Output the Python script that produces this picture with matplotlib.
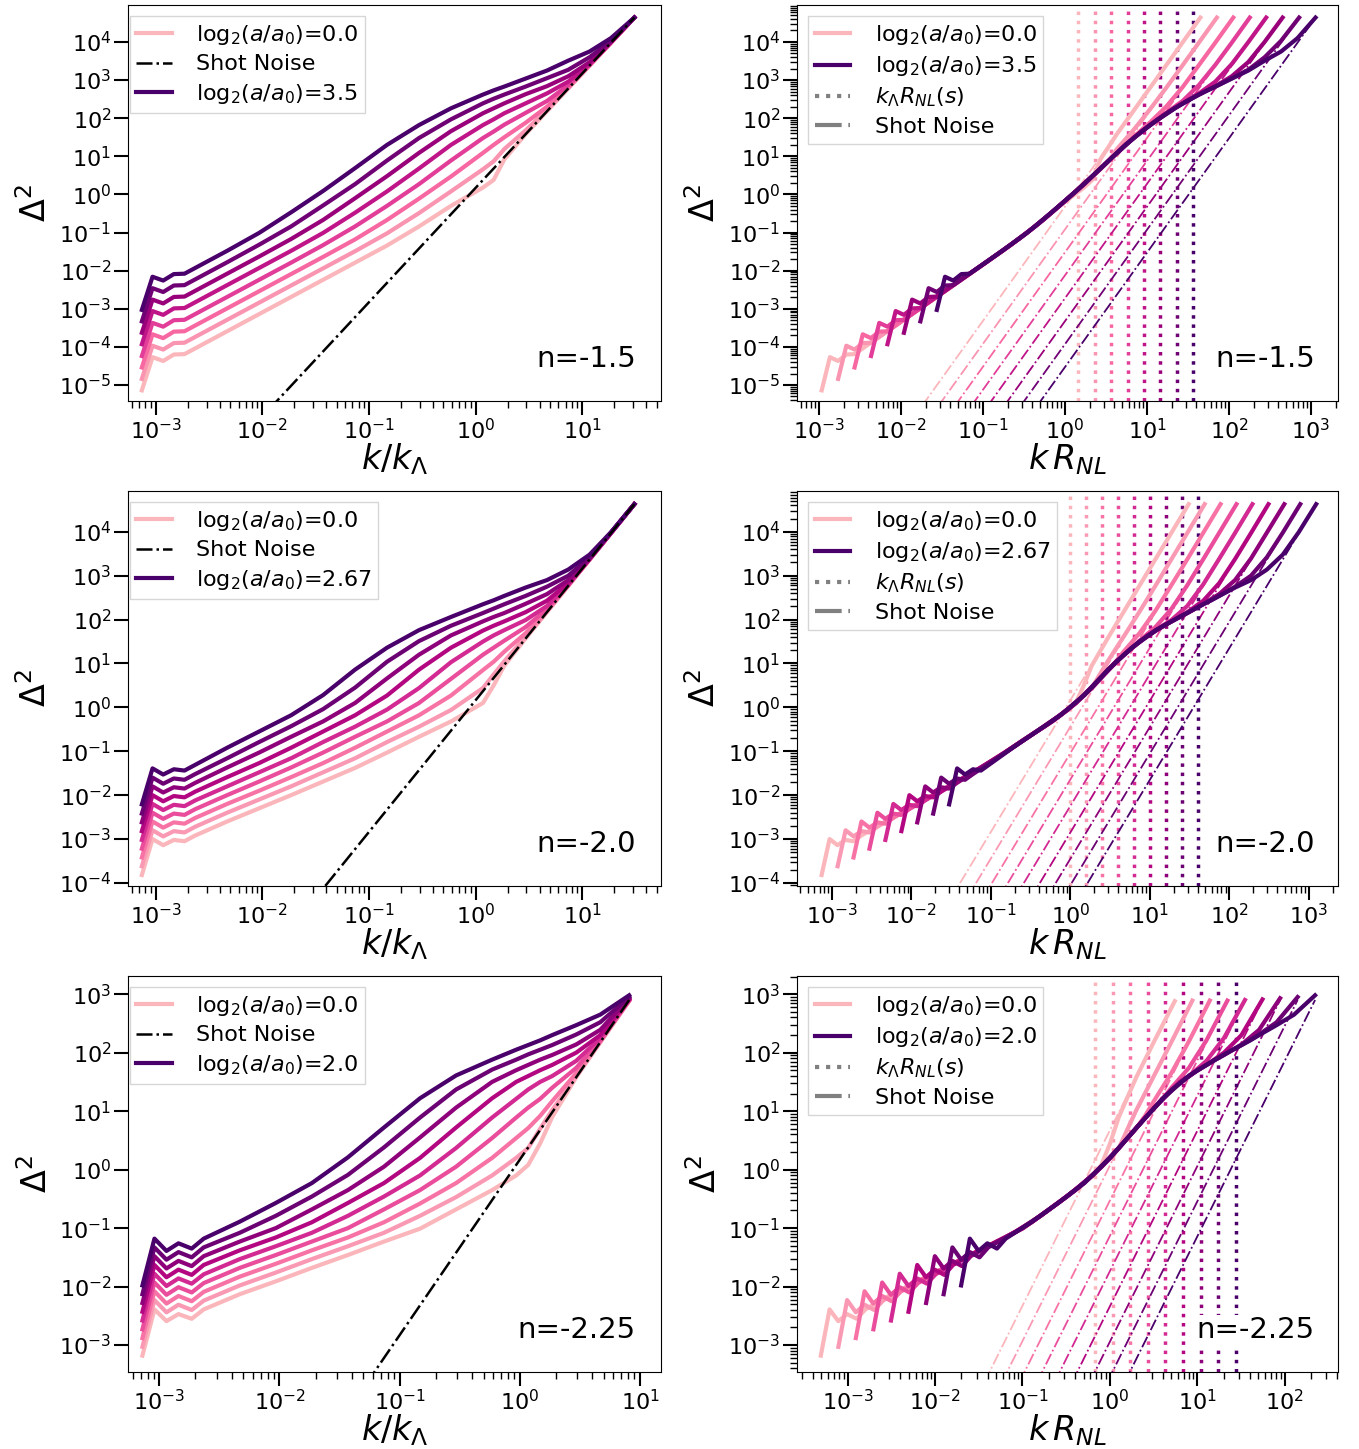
import numpy as np
import matplotlib.pyplot as plt
from matplotlib.lines import Line2D
from matplotlib.ticker import LogLocator, NullFormatter, NullLocator

# Dimensionless power spectra Delta^2(k) for three scale-free runs.
# Values are log10(Delta^2) on a log10(k/k_Lambda) grid, one row per snapshot.

# ---- n = -1.5 ----
logk_15 = [-3.13, -3.03, -2.93, -2.83, -2.73, -2.63, -2.33, -2.03, -1.73, -1.43, -1.13, -0.83,
           -0.53, -0.23, 0.07, 0.17, 0.27, 0.47, 0.67, 0.87, 1.07, 1.27, 1.49]
loga_15 = [0.0, 0.5, 1.0, 1.5, 2.0, 2.5, 3.0, 3.5]
krnl_15 = [1.45, 2.30, 3.65, 5.80, 9.20, 14.6, 23.2, 36.8]
d2_15 = [
    [-5.14, -4.27, -4.37, -4.20, -4.19, -4.04, -3.59, -3.14, -2.69, -2.24, -1.79, -1.34, -0.84, -0.30, 0.18, 0.38, 0.92, 1.58, 2.18, 2.78, 3.38, 3.98, 4.64],
    [-4.84, -3.97, -4.07, -3.90, -3.89, -3.74, -3.29, -2.84, -2.39, -1.94, -1.49, -1.02, -0.49, 0.08, 0.66, 0.87, 1.19, 1.68, 2.22, 2.79, 3.38, 3.98, 4.64],
    [-4.54, -3.67, -3.77, -3.60, -3.59, -3.44, -2.99, -2.54, -2.09, -1.64, -1.18, -0.67, -0.11, 0.47, 1.09, 1.30, 1.50, 1.88, 2.30, 2.81, 3.39, 3.98, 4.64],
    [-4.24, -3.37, -3.47, -3.30, -3.29, -3.14, -2.69, -2.24, -1.79, -1.33, -0.84, -0.30, 0.27, 0.89, 1.48, 1.65, 1.83, 2.14, 2.45, 2.87, 3.40, 3.98, 4.64],
    [-3.93, -3.06, -3.16, -2.99, -2.98, -2.83, -2.38, -1.93, -1.48, -1.01, -0.48, 0.08, 0.68, 1.30, 1.82, 1.97, 2.13, 2.39, 2.65, 2.96, 3.42, 3.99, 4.64],
    [-3.63, -2.76, -2.86, -2.69, -2.68, -2.53, -2.08, -1.63, -1.17, -0.67, -0.10, 0.48, 1.09, 1.66, 2.13, 2.26, 2.39, 2.63, 2.84, 3.10, 3.47, 4.00, 4.64],
    [-3.33, -2.46, -2.56, -2.39, -2.38, -2.23, -1.78, -1.32, -0.84, -0.29, 0.27, 0.89, 1.48, 1.97, 2.39, 2.51, 2.62, 2.83, 3.05, 3.27, 3.60, 4.03, 4.64],
    [-3.03, -2.16, -2.26, -2.09, -2.08, -1.93, -1.48, -1.01, -0.47, 0.09, 0.69, 1.30, 1.82, 2.26, 2.62, 2.73, 2.83, 3.04, 3.25, 3.51, 3.75, 4.10, 4.64],
]
sn_logk_15 = [-3.13, 1.49]
sn_d2_15 = [-9.22, 4.64]

# ---- n = -2.0 ----
logk_20 = [-3.13, -3.03, -2.93, -2.83, -2.73, -2.63, -2.33, -2.03, -1.73, -1.43, -1.13, -0.83,
           -0.53, -0.23, 0.07, 0.17, 0.27, 0.47, 0.67, 0.87, 1.07, 1.27, 1.49]
loga_20 = [0.0, 0.33, 0.67, 1.0, 1.33, 1.67, 2.0, 2.33, 2.67]
krnl_20 = [1.00, 1.59, 2.52, 4.00, 6.35, 10.1, 16.0, 25.4, 40.3]
d2_20 = [
    [-3.82, -3.00, -3.14, -3.02, -3.05, -2.92, -2.60, -2.30, -2.00, -1.69, -1.38, -1.03, -0.67, -0.32, 0.10, 0.50, 0.95, 1.57, 2.17, 2.77, 3.37, 3.97, 4.63],
    [-3.62, -2.80, -2.94, -2.82, -2.85, -2.72, -2.40, -2.10, -1.80, -1.48, -1.16, -0.79, -0.44, -0.06, 0.44, 0.75, 1.05, 1.61, 2.18, 2.77, 3.37, 3.97, 4.63],
    [-3.42, -2.60, -2.74, -2.62, -2.65, -2.52, -2.20, -1.90, -1.59, -1.27, -0.92, -0.55, -0.18, 0.27, 0.85, 1.04, 1.27, 1.69, 2.20, 2.78, 3.37, 3.97, 4.63],
    [-3.22, -2.40, -2.54, -2.42, -2.45, -2.32, -2.00, -1.69, -1.37, -1.03, -0.67, -0.32, 0.10, 0.65, 1.20, 1.36, 1.52, 1.83, 2.24, 2.78, 3.37, 3.97, 4.63],
    [-3.02, -2.20, -2.34, -2.22, -2.25, -2.12, -1.80, -1.48, -1.16, -0.79, -0.44, -0.05, 0.44, 1.03, 1.50, 1.64, 1.76, 1.99, 2.31, 2.80, 3.38, 3.97, 4.63],
    [-2.82, -2.00, -2.14, -2.02, -2.05, -1.92, -1.59, -1.27, -0.92, -0.55, -0.18, 0.27, 0.86, 1.36, 1.75, 1.86, 1.96, 2.17, 2.43, 2.83, 3.38, 3.97, 4.63],
    [-2.62, -1.80, -1.94, -1.82, -1.85, -1.72, -1.37, -1.03, -0.67, -0.32, 0.10, 0.66, 1.20, 1.64, 1.96, 2.06, 2.15, 2.36, 2.58, 2.90, 3.39, 3.98, 4.63],
    [-2.42, -1.60, -1.74, -1.62, -1.65, -1.52, -1.16, -0.79, -0.43, -0.04, 0.45, 1.04, 1.51, 1.86, 2.15, 2.25, 2.35, 2.54, 2.75, 3.00, 3.42, 3.98, 4.63],
    [-2.21, -1.39, -1.53, -1.41, -1.44, -1.31, -0.92, -0.55, -0.18, 0.28, 0.86, 1.36, 1.76, 2.06, 2.35, 2.44, 2.54, 2.73, 2.90, 3.14, 3.48, 3.99, 4.63],
]
sn_logk_20 = [-3.13, 1.49]
sn_d2_20 = [-9.23, 4.63]

# ---- n = -2.25 ----
logk_225 = [-3.14, -3.04, -2.94, -2.84, -2.73, -2.63, -2.33, -2.03, -1.73, -1.43, -1.13, -0.83,
            -0.53, -0.23, -0.03, 0.07, 0.17, 0.27, 0.47, 0.67, 0.91]
loga_225 = [0.0, 0.25, 0.5, 0.75, 1.0, 1.25, 1.5, 1.75, 2.0]
krnl_225 = [0.68, 1.08, 1.71, 2.72, 4.32, 6.85, 10.9, 17.3, 27.4]
d2_225 = [
    [-3.18, -2.39, -2.59, -2.47, -2.55, -2.39, -2.13, -1.91, -1.68, -1.46, -1.23, -1.01, -0.68, -0.35, -0.10, 0.08, 0.45, 0.90, 1.58, 2.18, 2.88],
    [-3.03, -2.23, -2.44, -2.31, -2.40, -2.24, -1.98, -1.76, -1.53, -1.31, -1.08, -0.79, -0.47, -0.10, 0.20, 0.37, 0.70, 1.02, 1.60, 2.18, 2.89],
    [-2.88, -2.08, -2.29, -2.16, -2.25, -2.09, -1.83, -1.61, -1.38, -1.16, -0.90, -0.58, -0.23, 0.20, 0.54, 0.71, 0.92, 1.17, 1.65, 2.19, 2.89],
    [-2.73, -1.93, -2.14, -2.01, -2.10, -1.94, -1.68, -1.46, -1.23, -1.00, -0.68, -0.35, 0.05, 0.54, 0.89, 1.06, 1.21, 1.40, 1.74, 2.21, 2.89],
    [-2.58, -1.78, -1.99, -1.86, -1.95, -1.79, -1.53, -1.31, -1.08, -0.79, -0.46, -0.10, 0.37, 0.89, 1.21, 1.37, 1.50, 1.60, 1.86, 2.25, 2.90],
    [-2.43, -1.63, -1.84, -1.71, -1.80, -1.63, -1.38, -1.16, -0.90, -0.57, -0.23, 0.20, 0.72, 1.22, 1.50, 1.60, 1.70, 1.79, 2.00, 2.30, 2.91],
    [-2.28, -1.48, -1.69, -1.56, -1.65, -1.48, -1.23, -1.00, -0.68, -0.35, 0.05, 0.55, 1.06, 1.50, 1.70, 1.79, 1.88, 1.96, 2.14, 2.39, 2.93],
    [-2.13, -1.33, -1.54, -1.41, -1.50, -1.33, -1.08, -0.79, -0.46, -0.09, 0.38, 0.89, 1.37, 1.71, 1.88, 1.97, 2.05, 2.13, 2.31, 2.52, 2.95],
    [-1.98, -1.18, -1.39, -1.26, -1.35, -1.18, -0.89, -0.57, -0.23, 0.21, 0.72, 1.22, 1.61, 1.88, 2.05, 2.13, 2.21, 2.30, 2.47, 2.65, 2.98],
]
sn_logk_225 = [-3.14, 0.91]
sn_d2_225 = [-9.25, 2.90]

runs = [
    dict(name="n=-1.5", logk=logk_15, loga=loga_15, krnl=krnl_15, d2=d2_15,
         sn_k=sn_logk_15, sn_d2=sn_d2_15,
         xl=(-3.26, 1.74), xr=(-3.27, 3.33), yl=(-5.42, 4.97)),
    dict(name="n=-2.0", logk=logk_20, loga=loga_20, krnl=krnl_20, d2=d2_20,
         sn_k=sn_logk_20, sn_d2=sn_d2_20,
         xl=(-3.26, 1.74), xr=(-3.44, 3.37), yl=(-4.07, 4.93)),
    dict(name="n=-2.25", logk=logk_225, loga=loga_225, krnl=krnl_225, d2=d2_225,
         sn_k=sn_logk_225, sn_d2=sn_d2_225,
         xl=(-3.26, 1.175), xr=(-3.58, 2.61), yl=(-3.46, 3.31)),
]

W, H = 1359, 1449
fig = plt.figure(figsize=(W / 100, H / 100), dpi=100)


def box(l, t, r, b):
    return [l / W, 1 - b / H, (r - l) / W, (b - t) / H]


rows = [(5, 401), (491, 886), (976, 1372)]
cols = [(128, 661), (797, 1338)]
LEG = dict(loc="upper left", fontsize=16, fancybox=False, edgecolor="0.8",
           handlelength=1.6, handletextpad=1.1, labelspacing=0.34, borderpad=0.3)


def snap_label(v):
    return r"$\mathrm{log}_2(a/a_0)$=%s" % v


def style_axis(ax, xlim, ylim, yminor):
    ax.set_xscale("log")
    ax.set_yscale("log")
    ax.set_xlim(10 ** xlim[0], 10 ** xlim[1])
    ax.set_ylim(10 ** ylim[0], 10 ** ylim[1])
    for axis in (ax.xaxis, ax.yaxis):
        axis.set_major_locator(LogLocator(base=10, numticks=30))
        axis.set_minor_locator(LogLocator(base=10, subs=np.arange(2, 10), numticks=300))
        axis.set_minor_formatter(NullFormatter())
    if not yminor:
        ax.yaxis.set_minor_locator(NullLocator())
    ax.tick_params(which="major", length=10, width=1.5, labelsize=16, pad=2)
    ax.tick_params(which="minor", length=5, width=1.0)
    ax.set_ylabel(r"$\Delta^2$", fontsize=24)


for r, run in enumerate(rows):
    p = runs[r]
    n_snap = len(p["loga"])
    colors = plt.cm.RdPu(np.linspace(0.3, 1.0, n_snap))
    k = np.power(10.0, p["logk"])
    sn_k = np.power(10.0, p["sn_k"])
    sn_d2 = np.power(10.0, p["sn_d2"])

    # left: Delta^2 against k / k_Lambda
    axl = fig.add_axes(box(cols[0][0], run[0], cols[0][1], run[1]))
    for i in range(n_snap):
        axl.plot(k, np.power(10.0, p["d2"][i]), color=colors[i], lw=3, zorder=3)
    sn_line, = axl.plot(sn_k, sn_d2, color="k", ls="-.", lw=1.8, zorder=4)
    style_axis(axl, p["xl"], p["yl"], yminor=False)
    axl.set_xlabel(r"$k/k_\Lambda$", fontsize=24, labelpad=-1)
    h_first = Line2D([], [], color=colors[0], lw=3)
    h_last = Line2D([], [], color=colors[-1], lw=3)
    axl.legend([h_first, sn_line, h_last],
               [snap_label(p["loga"][0]), "Shot Noise", snap_label(p["loga"][-1])],
               bbox_to_anchor=(-0.018, 1.0), **LEG)
    axl.text(0.953, 0.07, p["name"], transform=axl.transAxes, ha="right", va="bottom",
             fontsize=21)

    # right: the same spectra against k R_NL
    axr = fig.add_axes(box(cols[1][0], run[0], cols[1][1], run[1]))
    for i in range(n_snap):
        R = p["krnl"][i]
        axr.axvline(R, color=colors[i], ls=":", lw=2.5, zorder=2)
        axr.plot(sn_k * R, sn_d2, color=colors[i], ls="-.", lw=1.3, zorder=2)
        axr.plot(k * R, np.power(10.0, p["d2"][i]), color=colors[i], lw=3, zorder=3)
    style_axis(axr, p["xr"], p["yl"], yminor=True)
    axr.set_xlabel(r"$k\,R_{NL}$", fontsize=24, labelpad=-1)
    handles = [h_first, h_last,
               Line2D([], [], color="grey", ls=":", lw=3),
               Line2D([], [], color="grey", ls="-.", lw=3)]
    labels = [snap_label(p["loga"][0]), snap_label(p["loga"][-1]),
              r"$k_\Lambda R_{NL}(s)$", "Shot Noise"]
    axr.legend(handles, labels, **LEG)
    axr.text(0.957, 0.07, p["name"], transform=axr.transAxes, ha="right", va="bottom",
             fontsize=21, zorder=5,
             bbox=dict(facecolor="white", edgecolor="none", pad=1.0))

fig.savefig("out.png", dpi=100)
